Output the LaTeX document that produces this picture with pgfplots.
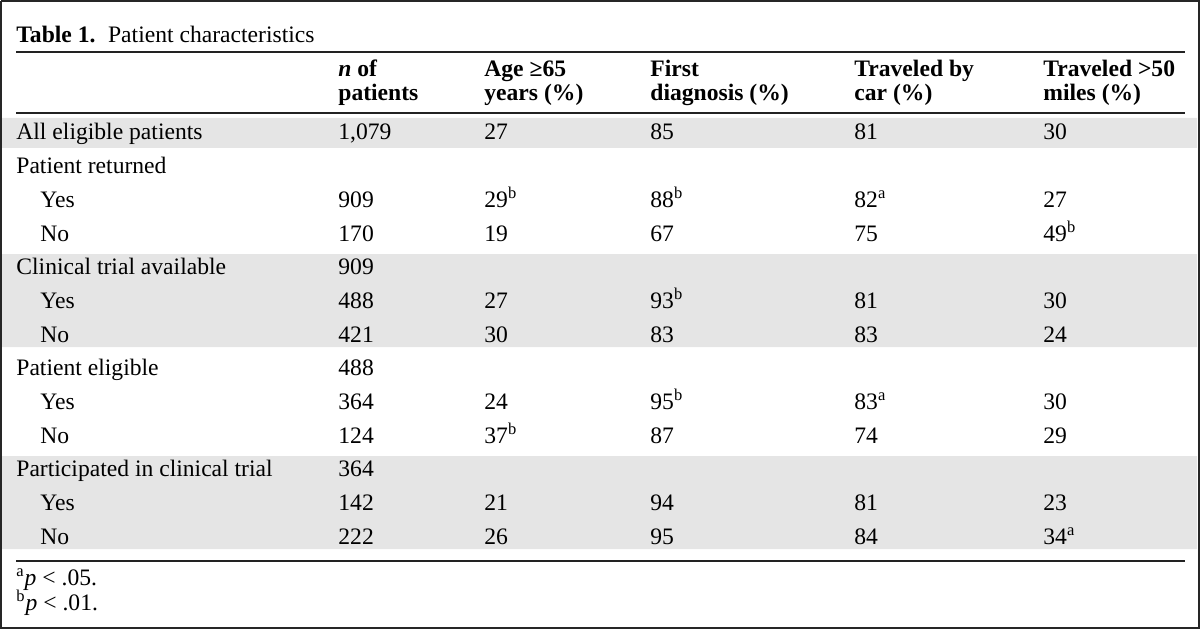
\documentclass[border=0pt]{standalone}
\usepackage{pgfplots}
\pgfplotsset{compat=1.18}
\usepackage{fontspec}
\setmainfont{Liberation Serif}
\definecolor{band}{HTML}{E5E5E5}
\definecolor{rule}{HTML}{222222}
\newcommand{\body}{\fontsize{11.8bp}{14bp}\selectfont}
\newcommand{\sa}{\textsuperscript{a}}
\newcommand{\sbb}{\textsuperscript{b}}
\pgfplotsset{
  cell/.style={only marks, mark=none, point meta=explicit symbolic,
    nodes near coords,
    every node near coord/.append style={anchor=base west, inner sep=0pt, font=\body, text=black}},
  bandfill/.style={fill=band, draw=none, mark=none},
  hrule/.style={draw=rule, line width=1bp, mark=none},
}
\begin{document}
\begin{tikzpicture}
\begin{axis}[x=0.5bp, y=0.5bp, y dir=reverse, xmin=0, xmax=1200, ymin=0, ymax=629,
  hide axis, clip=false, scale only axis]
% grey bands
\addplot[bandfill] coordinates {(2,118) (1197,118) (1197,148) (2,148) (2,118)};
\addplot[bandfill] coordinates {(2,254) (1197,254) (1197,347) (2,347) (2,254)};
\addplot[bandfill] coordinates {(2,456) (1197,456) (1197,549) (2,549) (2,456)};
% rules
\addplot[hrule] coordinates {(16,52.5) (1185,52.5)};
\addplot[hrule] coordinates {(16,113.5) (1185,113.5)};
\addplot[hrule, line width=1.4bp] coordinates {(16,561) (1185,561)};
% border
\addplot[draw=black!85, line width=1bp, mark=none] coordinates {(1,1) (1199,1) (1199,628) (1,628) (1,1)};
% title
\addplot[cell] coordinates {(16,43) [\textbf{Table 1.}\hspace{0.2em} Patient characteristics]};
% header
\addplot[cell] coordinates {
 (338,77) [\textbf{\textit{n} of}] (338,101) [\textbf{patients}]
 (484,77) [\textbf{Age ≥65}] (484,101) [\textbf{years (\%)}]
 (650,77) [\textbf{First}] (650,101) [\textbf{diagnosis (\%)}]
 (854,77) [\textbf{Traveled by}] (854,101) [\textbf{car (\%)}]
 (1043,77) [\textbf{Traveled >50}] (1043,101) [\textbf{miles (\%)}]
};
% row labels
\addplot[cell] coordinates {
 (16,140) [All eligible patients]
 (16,173.7) [Patient returned]
 (40,207.3) [Yes]
 (40,241) [No]
 (16,274.7) [Clinical trial available]
 (40,308.3) [Yes]
 (40,342) [No]
 (16,375.7) [Patient eligible]
 (40,409.3) [Yes]
 (40,443) [No]
 (16,476.7) [Participated in clinical trial]
 (40,510.3) [Yes]
 (40,544) [No]
};
% n of patients
\addplot[cell] coordinates {
 (338,140) [1,079]
 (338,207.3) [909] (338,241) [170]
 (338,274.7) [909] (338,308.3) [488] (338,342) [421]
 (338,375.7) [488] (338,409.3) [364] (338,443) [124]
 (338,476.7) [364] (338,510.3) [142] (338,544) [222]
};
% Age >=65
\addplot[cell] coordinates {
 (484,140) [27]
 (484,207.3) [29\sbb] (484,241) [19]
 (484,308.3) [27] (484,342) [30]
 (484,409.3) [24] (484,443) [37\sbb]
 (484,510.3) [21] (484,544) [26]
};
% First diagnosis
\addplot[cell] coordinates {
 (650,140) [85]
 (650,207.3) [88\sbb] (650,241) [67]
 (650,308.3) [93\sbb] (650,342) [83]
 (650,409.3) [95\sbb] (650,443) [87]
 (650,510.3) [94] (650,544) [95]
};
% Traveled by car
\addplot[cell] coordinates {
 (854,140) [81]
 (854,207.3) [82\sa] (854,241) [75]
 (854,308.3) [81] (854,342) [83]
 (854,409.3) [83\sa] (854,443) [74]
 (854,510.3) [81] (854,544) [84]
};
% Traveled >50 miles
\addplot[cell] coordinates {
 (1043,140) [30]
 (1043,207.3) [27] (1043,241) [49\sbb]
 (1043,308.3) [30] (1043,342) [24]
 (1043,409.3) [30] (1043,443) [29]
 (1043,510.3) [23] (1043,544) [34\sa]
};
% footnotes
\addplot[cell] coordinates {
 (16,585) [\sa\textit{p} < .05.]
 (16,610) [\sbb\textit{p} < .01.]
};
\end{axis}
\end{tikzpicture}
\end{document}
